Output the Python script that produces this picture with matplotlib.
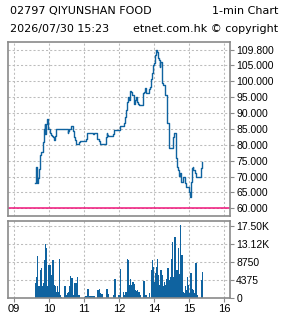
import matplotlib
matplotlib.use("Agg")
import matplotlib.pyplot as plt

# price, 1-min steps (HH:MM, price)
price_times = ["09:36", "09:37", "09:39", "09:40", "09:42", "09:43", "09:45", "09:46",
               "09:49", "09:51", "09:53", "09:54", "09:55", "09:56", "09:57", "09:58",
               "09:59", "10:01", "10:03", "10:06", "10:07", "10:09", "10:11", "10:12",
               "10:32", "10:33", "10:35", "10:37", "10:41", "10:42", "10:43", "10:44",
               "10:46", "10:50", "10:52", "10:53", "11:02", "11:03", "11:05", "11:06",
               "11:15", "11:17", "11:22", "11:23", "11:26", "11:27", "11:36", "11:38",
               "11:39", "11:40", "11:42", "11:49", "11:50", "11:52", "13:02", "13:09",
               "13:10", "13:12", "13:13", "13:15", "13:17", "13:19", "13:21", "13:22",
               "13:23", "13:25", "13:26", "13:27", "13:29", "13:30", "13:31", "13:33",
               "13:35", "13:41", "13:43", "13:45", "13:46", "13:52", "13:53", "13:54",
               "13:56", "13:58", "14:00", "14:01", "14:02", "14:03", "14:05", "14:07",
               "14:09", "14:10", "14:11", "14:13", "14:14", "14:16", "14:18", "14:19",
               "14:22", "14:23", "14:25", "14:26", "14:30", "14:32", "14:34", "14:35",
               "14:37", "14:38", "14:39", "14:41", "14:42", "14:43", "14:45", "14:46",
               "14:47", "14:49", "14:51", "14:53", "14:54", "14:59", "15:00", "15:02",
               "15:03", "15:04", "15:05", "15:06", "15:07", "15:10", "15:12", "15:19",
               "15:21", "15:22", "15:23"]
prices = [68.0, 73.0, 70.7, 67.9, 69.5, 72.5, 76.7, 77.7,
          80.8, 85.0, 86.6, 83.5, 86.6, 87.5, 88.2, 86.0,
          84.8, 83.8, 83.0, 82.6, 82.3, 81.6, 82.8, 84.8,
          83.6, 84.3, 85.0, 85.8, 85.8, 84.3, 82.3, 81.6,
          80.1, 80.1, 80.8, 81.2, 81.2, 81.7, 82.5, 83.8,
          83.3, 83.8, 83.1, 81.7, 81.2, 80.3, 80.3, 82.5,
          83.8, 83.1, 82.7, 82.7, 83.5, 84.6, 85.9, 86.7,
          88.8, 90.9, 93.5, 94.9, 94.1, 97.0, 96.7, 96.2,
          95.7, 94.4, 92.9, 94.1, 95.1, 94.3, 93.6, 92.9,
          92.6, 96.2, 96.7, 98.0, 96.2, 97.6, 98.3, 100.6,
          102.7, 105.1, 105.6, 106.1, 108.2, 109.8, 109.3, 107.2,
          106.6, 104.5, 106.1, 104.5, 99.3, 98.8, 97.7, 95.6,
          88.8, 86.7, 82.5, 79.1, 79.1, 82.5, 83.0, 83.7,
          80.4, 75.9, 73.0, 72.0, 70.5, 70.2, 71.0, 69.9,
          68.4, 69.9, 69.9, 67.9, 66.8, 66.8, 65.2, 63.5,
          65.2, 68.4, 72.6, 72.9, 72.1, 71.1, 69.8, 69.8,
          72.6, 74.2, 74.5]

vol_times = ["09:36", "09:38", "09:39", "09:41", "09:43", "09:45", "09:46", "09:48",
             "09:50", "09:51", "09:53", "09:54", "09:56", "09:58", "09:59", "10:01",
             "10:03", "10:05", "10:06", "10:08", "10:10", "10:11", "10:13", "10:15",
             "10:17", "10:18", "10:20", "10:26", "10:27", "10:29", "10:31", "10:33",
             "10:34", "10:36", "10:38", "10:39", "10:41", "10:43", "10:45", "10:46",
             "10:48", "10:50", "10:51", "11:00", "11:02", "11:06", "11:07", "11:09",
             "11:11", "11:13", "11:14", "11:16", "11:23", "11:25", "11:26", "11:28",
             "11:30", "11:38", "11:39", "11:41", "11:49", "11:51", "11:52", "11:59",
             "13:01", "13:07", "13:09", "13:11", "13:13", "13:14", "13:16", "13:18",
             "13:19", "13:21", "13:23", "13:25", "13:26", "13:28", "13:30", "13:31",
             "13:33", "13:35", "13:41", "13:42", "13:44", "13:46", "13:47", "13:49",
             "13:51", "13:54", "13:56", "13:58", "13:59", "14:01", "14:03", "14:05",
             "14:06", "14:08", "14:10", "14:11", "14:13", "14:15", "14:17", "14:18",
             "14:20", "14:22", "14:23", "14:25", "14:27", "14:29", "14:30", "14:32",
             "14:34", "14:35", "14:37", "14:39", "14:41", "14:42", "14:44", "14:46",
             "14:47", "14:49", "14:51", "14:53", "14:54", "14:56", "14:58", "14:59",
             "15:01", "15:03", "15:05", "15:06", "15:08", "15:10", "15:11", "15:13",
             "15:21", "15:22"]
volumes = [3600, 5200, 10200, 2900, 2900, 6800, 7200, 2800,
           3600, 9200, 13100, 12100, 2800, 7200, 8000, 8000,
           5600, 6400, 9200, 3200, 2800, 1500, 2800, 1500,
           9600, 700, 300, 2800, 300, 700, 1100, 1500,
           2800, 5400, 4900, 4400, 700, 3600, 3600, 2800,
           5000, 700, 300, 300, 600, 2300, 600, 600,
           600, 600, 600, 600, 1900, 2300, 1100, 700,
           900, 2300, 700, 900, 700, 300, 4500, 700,
           7000, 1400, 700, 1500, 9600, 9200, 3200, 4500,
           1100, 3200, 4000, 3300, 1900, 1700, 1900, 900,
           1500, 700, 4100, 4100, 700, 700, 300, 300,
           1100, 6800, 9200, 7500, 4000, 6000, 7600, 9500,
           5600, 3200, 1900, 6800, 5600, 2800, 4000, 3200,
           4500, 4000, 7200, 4400, 5200, 9600, 13700, 5200,
           10000, 14900, 6800, 6800, 12100, 5800, 17700, 5600,
           10400, 1500, 1100, 2800, 1900, 5200, 3200, 1100,
           6000, 6000, 2300, 1900, 1100, 1500, 8400, 700,
           4400, 6200]

price_ticks = [60, 65, 70, 75, 80, 85, 90, 95, 100, 105, 109.8]
price_tick_labels = ["60.000", "65.000", "70.000", "75.000", "80.000", "85.000",
                     "90.000", "95.000", "100.000", "105.000", "109.800"]
vol_ticks = [0, 4375, 8750, 13125, 17500]
vol_tick_labels = ["0", "4375", "8750", "13.12K", "17.50K"]
hour_labels = ["09", "10", "11", "12", "14", "15", "16"]
ref_line = 60.0


def to_x(t):
    h, m = map(int, t.split(":"))
    mins = (h - 9) * 60 + m
    if h >= 13:
        mins -= 60  # lunch break is squeezed out
    return mins / 60.0


px = [to_x(t) for t in price_times]
vx = [to_x(t) for t in vol_times]

W, H = 285, 318
fig = plt.figure(figsize=(W / 100, H / 100), dpi=100)
blue = "#0f63a0"
frame = "#8a8a8a"
gridc = "#bcbcbc"

ax = fig.add_axes([8 / W, (H - 216) / H, 222 / W, 174 / H])
ax2 = fig.add_axes([8 / W, (H - 298) / H, 222 / W, 77 / H])

for a in (ax, ax2):
    a.set_xlim(-0.171, 6.171)
    a.set_xticks(range(len(hour_labels)))
    a.grid(True, color=gridc, linestyle=(0, (2, 2)), linewidth=0.75)
    a.set_axisbelow(True)
    for s in a.spines.values():
        s.set_color(frame)
        s.set_linewidth(1.2)
    a.yaxis.tick_right()
    a.tick_params(colors=frame, length=3, width=0.8, labelcolor="black",
                  labelsize=7.5, pad=1.5)

ax.step(px, prices, where="post", color=blue, linewidth=1.0)
ax.axhline(ref_line, color="#f0147a", linewidth=1.1)
ax.set_ylim(57.58, 112.32)
ax.set_yticks(price_ticks)
ax.set_yticklabels(price_tick_labels, family="Liberation Sans")
ax.tick_params(axis="x", labelbottom=False, length=0)

ax2.bar(vx, volumes, width=1.4 / 35, align="edge", color=blue, linewidth=0)
ax2.set_ylim(0, 18720)
ax2.set_yticks(vol_ticks)
ax2.set_yticklabels(vol_tick_labels, family="Liberation Sans")
ax2.set_xticklabels(hour_labels, family="Liberation Sans", fontsize=8)

fig.text(10 / W, 1 - 11 / H, "02797 QIYUNSHAN FOOD", fontsize=8, va="center", ha="left")
fig.text(278 / W, 1 - 11 / H, "1-min Chart", fontsize=8, va="center", ha="right")
fig.text(10 / W, 1 - 29 / H, "2026/07/30 15:23", fontsize=8, va="center", ha="left")
fig.text(278 / W, 1 - 29 / H, "etnet.com.hk \u00a9 copyright", fontsize=8, va="center", ha="right")

fig.savefig("out.png", dpi=100)
